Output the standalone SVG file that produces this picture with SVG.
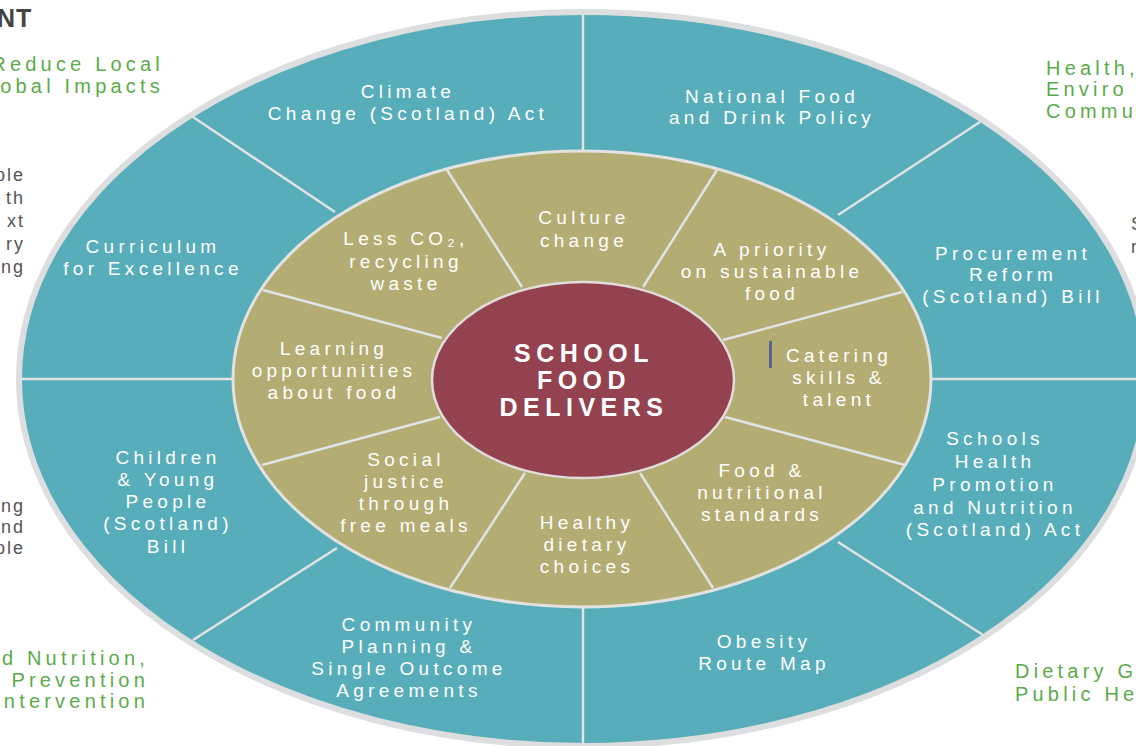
<svg xmlns="http://www.w3.org/2000/svg" width="1136" height="746" viewBox="0 0 1136 746">
<style>
.bg{fill:#ffffff}
.outer{fill:#57adb9;stroke:#dcdedf;stroke-width:6}
.mid{fill:#b3ad74;stroke:#e2e2e0;stroke-width:3}
.core{fill:#944150;stroke:#e2dcdc;stroke-width:2.5}
.div{stroke:#e0e4e4;stroke-width:2.5;fill:none}
.t{font-family:"Liberation Sans",Arial,sans-serif;font-size:19px;fill:#ffffff;text-anchor:middle;letter-spacing:4.3px}
.c{font-family:"Liberation Sans",Arial,sans-serif;font-size:25px;font-weight:bold;fill:#ffffff;text-anchor:middle;letter-spacing:5.5px}
.g{font-family:"Liberation Sans",Arial,sans-serif;font-size:20px;fill:#5bab4a;letter-spacing:4.2px}
.k{font-family:"Liberation Sans",Arial,sans-serif;font-size:18px;fill:#555555;letter-spacing:2px;text-anchor:end}
.h{font-family:"Liberation Sans",Arial,sans-serif;font-size:25px;font-weight:bold;fill:#444444;letter-spacing:1px}
</style>
<rect class="bg" x="0" y="0" width="1136" height="746"/>

<g id="outer-ring">
<ellipse class="outer" cx="583" cy="379" rx="564" ry="367"/>
</g>

<g id="connectors">
<line class="div" x1="583" y1="14" x2="583" y2="152"/>
<line class="div" x1="583" y1="606" x2="583" y2="744"/>
<line class="div" x1="22" y1="379" x2="233" y2="379"/>
<line class="div" x1="931" y1="379" x2="1136" y2="379"/>
<line class="div" x1="193" y1="117" x2="335" y2="212"/>
<line class="div" x1="980" y1="122" x2="838" y2="215"/>
<line class="div" x1="983" y1="635" x2="838" y2="542"/>
<line class="div" x1="193" y1="640" x2="337" y2="548"/>
</g>

<g id="middle-ring">
<ellipse class="mid" cx="582" cy="379" rx="349" ry="228"/>
</g>

<g id="middle-dividers">
<line class="div" x1="447" y1="170" x2="522" y2="287"/>
<line class="div" x1="717" y1="170" x2="643" y2="287"/>
<line class="div" x1="902" y1="292" x2="723" y2="340"/>
<line class="div" x1="905" y1="465" x2="725" y2="417"/>
<line class="div" x1="713" y1="588" x2="640" y2="473"/>
<line class="div" x1="450" y1="588" x2="525" y2="473"/>
<line class="div" x1="262" y1="465" x2="440" y2="417"/>
<line class="div" x1="263" y1="290" x2="442" y2="338"/>
</g>

<g id="core">
<ellipse class="core" cx="583" cy="380" rx="151" ry="98"/>
<text class="c" x="584" y="362">SCHOOL</text>
<text class="c" x="584" y="389">FOOD</text>
<text class="c" x="584" y="416">DELIVERS</text>
</g>

<g id="climate-change">
<text class="t" x="408" y="98">Climate</text>
<text class="t" x="408" y="120">Change (Scotland) Act</text>
</g>
<g id="national-food">
<text class="t" x="772" y="103">National Food</text>
<text class="t" x="772" y="124">and Drink Policy</text>
</g>
<g id="procurement">
<text class="t" x="1013" y="260">Procurement</text>
<text class="t" x="1013" y="281">Reform</text>
<text class="t" x="1013" y="303">(Scotland) Bill</text>
</g>
<g id="schools-health">
<text class="t" x="995" y="445">Schools</text>
<text class="t" x="995" y="468">Health</text>
<text class="t" x="995" y="491">Promotion</text>
<text class="t" x="995" y="514">and Nutrition</text>
<text class="t" x="995" y="536">(Scotland) Act</text>
</g>
<g id="obesity">
<text class="t" x="764" y="648">Obesity</text>
<text class="t" x="764" y="670">Route Map</text>
</g>
<g id="community-planning">
<text class="t" x="409" y="631">Community</text>
<text class="t" x="409" y="653">Planning &amp;</text>
<text class="t" x="409" y="675">Single Outcome</text>
<text class="t" x="409" y="697">Agreements</text>
</g>
<g id="children-young-people">
<text class="t" x="168" y="464">Children</text>
<text class="t" x="168" y="486">&amp; Young</text>
<text class="t" x="168" y="508">People</text>
<text class="t" x="168" y="530">(Scotland)</text>
<text class="t" x="168" y="553">Bill</text>
</g>
<g id="curriculum">
<text class="t" x="153" y="253">Curriculum</text>
<text class="t" x="153" y="275">for Excellence</text>
</g>

<g id="less-co2">
<text class="t" x="406" y="245">Less CO₂,</text>
<text class="t" x="406" y="268">recycling</text>
<text class="t" x="406" y="290">waste</text>
</g>
<g id="culture-change">
<text class="t" x="584" y="224">Culture</text>
<text class="t" x="584" y="247">change</text>
</g>
<g id="priority-sustainable">
<text class="t" x="772" y="256">A priority</text>
<text class="t" x="772" y="278">on sustainable</text>
<text class="t" x="772" y="300">food</text>
</g>
<g id="catering-skills">
<rect x="769" y="341" width="3" height="27" fill="#5c6496"/>
<text class="t" x="839" y="362">Catering</text>
<text class="t" x="839" y="384">skills &amp;</text>
<text class="t" x="839" y="406">talent</text>
</g>
<g id="food-nutritional">
<text class="t" x="762" y="477">Food &amp;</text>
<text class="t" x="762" y="499">nutritional</text>
<text class="t" x="762" y="521">standards</text>
</g>
<g id="healthy-dietary">
<text class="t" x="587" y="529">Healthy</text>
<text class="t" x="587" y="551">dietary</text>
<text class="t" x="587" y="573">choices</text>
</g>
<g id="social-justice">
<text class="t" x="406" y="466">Social</text>
<text class="t" x="406" y="488">justice</text>
<text class="t" x="406" y="510">through</text>
<text class="t" x="406" y="532">free meals</text>
</g>
<g id="learning">
<text class="t" x="334" y="355">Learning</text>
<text class="t" x="334" y="377">opportunities</text>
<text class="t" x="334" y="399">about food</text>
</g>

<g id="outside-labels">
<text class="h" x="-3" y="27">NT</text>
<text class="g" x="164" y="71" text-anchor="end">Reduce Local</text>
<text class="g" x="164" y="93" text-anchor="end">obal Impacts</text>
<text class="k" x="25" y="181">ple</text>
<text class="k" x="25" y="204">th</text>
<text class="k" x="25" y="227">xt</text>
<text class="k" x="25" y="250">ry</text>
<text class="k" x="25" y="273">ng</text>
<text class="k" x="25" y="512">ng</text>
<text class="k" x="25" y="533">nd</text>
<text class="k" x="25" y="554">ple</text>
<text class="g" x="149" y="665" text-anchor="end">d Nutrition,</text>
<text class="g" x="149" y="687" text-anchor="end">Prevention</text>
<text class="g" x="149" y="708" text-anchor="end">ntervention</text>
<text class="g" x="1046" y="75">Health,</text>
<text class="g" x="1046" y="96">Enviro</text>
<text class="g" x="1046" y="118">Commu</text>
<text class="k" x="1131" y="230" style="text-anchor:start">S</text>
<text class="k" x="1131" y="253" style="text-anchor:start">r</text>
<text class="g" x="1015" y="678">Dietary G</text>
<text class="g" x="1015" y="701">Public He</text>
</g>
</svg>
